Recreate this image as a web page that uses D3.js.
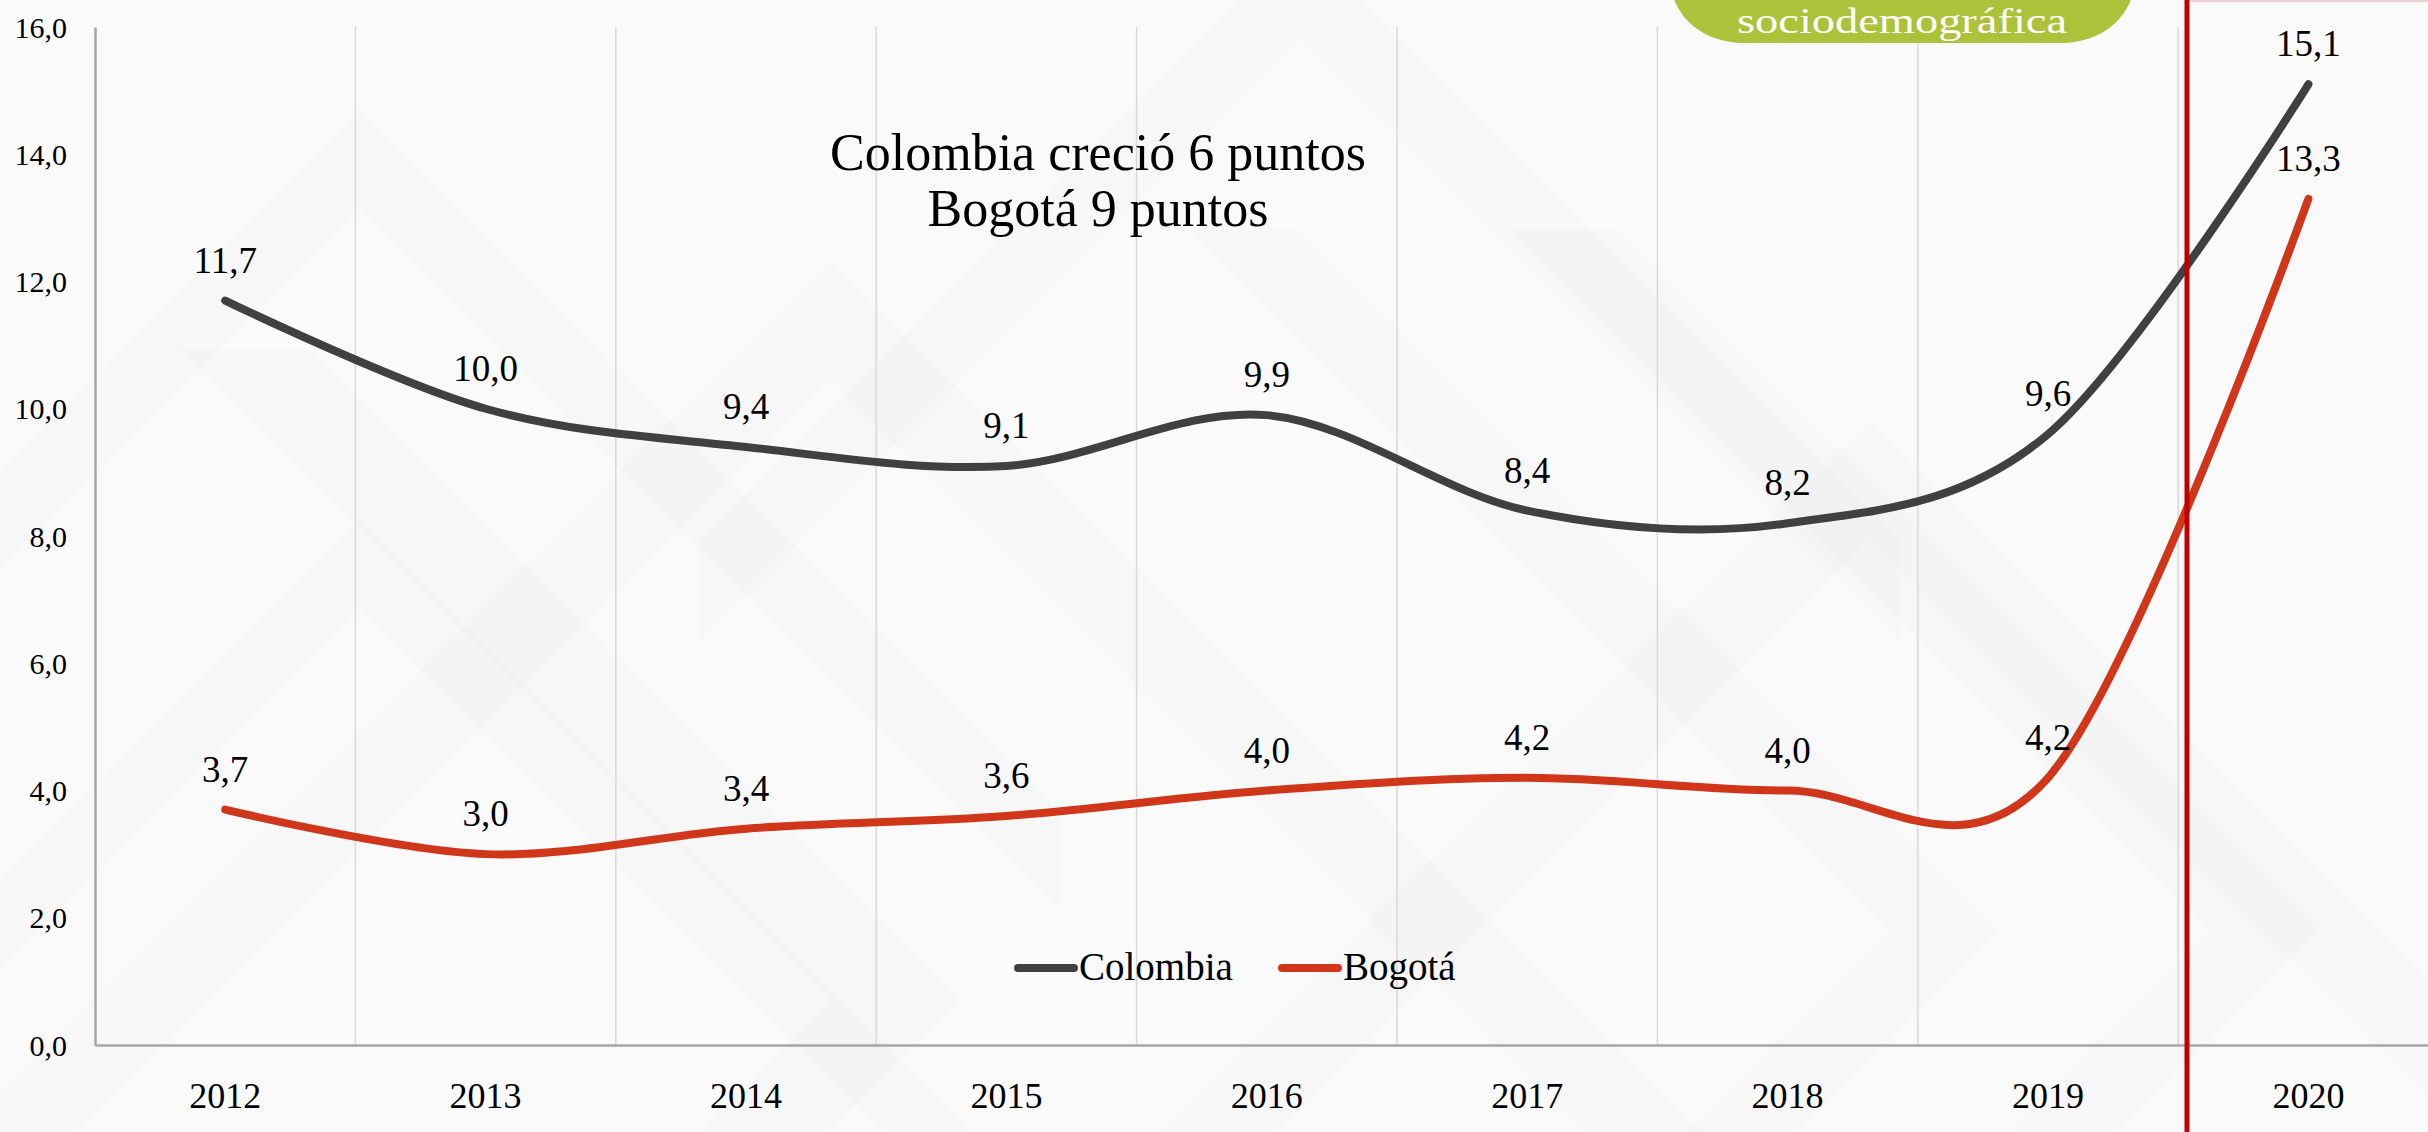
<!DOCTYPE html>
<html>
<head>
<meta charset="utf-8">
<script src="https://cdn.jsdelivr.net/npm/d3@7"></script>
<style>
  html, body { margin: 0; padding: 0; background: #fafafb; }
  svg { display: block; }
  text { font-family: "Liberation Serif", "DejaVu Serif", serif; fill: #000; }
</style>
</head>
<body>
<svg id="chart" width="2428" height="1132"></svg>
<script>
// Series: unemployment rate (%) by year
const years = ["2012", "2013", "2014", "2015", "2016", "2017", "2018", "2019", "2020"];
const colombia = [11.7, 10.0, 9.4, 9.1, 9.9, 8.4, 8.2, 9.6, 15.1];
const bogota = [3.7, 3.0, 3.4, 3.6, 4.0, 4.2, 4.0, 4.2, 13.3];
const seriesNames = ["Colombia", "Bogotá"];
const yTicks = [0, 2, 4, 6, 8, 10, 12, 14, 16];
const titleLines = ["Colombia creció 6 puntos", "Bogotá 9 puntos"];
const badgeText = "sociodemográfica";

const W = 2428, H = 1132;
const svg = d3.select("#chart");

const es = d3.formatLocale({ decimal: ",", thousands: ".", grouping: [3], currency: ["$", ""] });
const fmt = es.format(".1f");

// ---- soft chevron backdrop ----
const bg = svg.append("g");
bg.append("rect").attr("width", W).attr("height", H).attr("fill", "#fafafb");
function chevron(cx, cy, arm, thick, dir) {
  // dir: "up" (^) or "right" (>)
  let pts;
  if (dir === "up") {
    pts = [[cx - arm, cy + arm], [cx, cy], [cx + arm, cy + arm],
           [cx + arm, cy + arm + thick], [cx, cy + thick], [cx - arm, cy + arm + thick]];
  } else {
    pts = [[cx - arm, cy - arm], [cx, cy], [cx - arm, cy + arm],
           [cx - arm - thick, cy + arm], [cx - thick, cy], [cx - arm - thick, cy - arm]];
  }
  return "M" + pts.map(p => p.join(",")).join("L") + "Z";
}
const chevrons = [
  { cx: 830, cy: 260, arm: 900, t: 120, d: "up", o: 0.012 },
  { cx: 360, cy: 110, arm: 700, t: 100, d: "up", o: 0.012 },
  { cx: 360, cy: 520, arm: 700, t: 90, d: "up", o: 0.01 },
  { cx: 1870, cy: 420, arm: 800, t: 120, d: "up", o: 0.012 },
  { cx: 960, cy: 1000, arm: 650, t: 130, d: "right", o: 0.012 },
  { cx: 2000, cy: 930, arm: 700, t: 110, d: "right", o: 0.012 },
  { cx: 2320, cy: 930, arm: 700, t: 110, d: "right", o: 0.01 },
  { cx: 1300, cy: -60, arm: 600, t: 100, d: "up", o: 0.01 }
];
bg.selectAll("path.chev").data(chevrons).join("path")
  .attr("class", "chev")
  .attr("d", d => chevron(d.cx, d.cy, d.arm, d.t, d.d))
  .attr("fill", "#000").attr("fill-opacity", d => d.o);

// ---- scales ----
const plot = { left: 95, top: 27, bottom: 1045, band: 260.4 };
const x = d3.scaleBand().domain(years)
  .range([plot.left, plot.left + plot.band * years.length]).padding(0);
const y = d3.scaleLinear().domain([0, 16]).range([plot.bottom, plot.top]);
const cx = d => x(d) + x.bandwidth() / 2;

// ---- vertical gridlines between categories ----
svg.append("g").selectAll("line").data(years.slice(1)).join("line")
  .attr("x1", d => x(d)).attr("x2", d => x(d))
  .attr("y1", y(16)).attr("y2", y(0))
  .attr("stroke", "#d9d9d9").attr("stroke-width", 1.5);

// ---- axes ----
const yAxis = svg.append("g").attr("transform", `translate(${plot.left},0)`)
  .call(d3.axisLeft(y).tickValues(yTicks).tickFormat(fmt).tickSize(0).tickSizeOuter(0).tickPadding(28));
yAxis.attr("font-family", null);
yAxis.select(".domain").attr("stroke", "#a6a6a6").attr("stroke-width", 2.5);
yAxis.selectAll("text").attr("font-size", 30).attr("dy", "0.34em");

const xAxis = svg.append("g").attr("transform", `translate(0,${plot.bottom})`)
  .call(d3.axisBottom(x).tickSize(0).tickSizeOuter(0).tickPadding(37));
xAxis.attr("font-family", null);
xAxis.select(".domain").attr("stroke", "#a6a6a6").attr("stroke-width", 2.5);
xAxis.selectAll("text").attr("font-size", 36);

// ---- series lines ----
const series = [
  { name: seriesNames[0], values: colombia, color: "#404040" },
  { name: seriesNames[1], values: bogota, color: "#d0361a" }
];
const line = d3.line()
  .x((d, i) => cx(years[i]))
  .y(d => y(d))
  .curve(d3.curveCardinal.tension(0));

svg.append("g").selectAll("path").data(series).join("path")
  .attr("d", s => line(s.values))
  .attr("fill", "none")
  .attr("stroke", s => s.color)
  .attr("stroke-width", 8)
  .attr("stroke-linecap", "round")
  .attr("stroke-linejoin", "round");

// ---- data labels ----
series.forEach(s => {
  svg.append("g").selectAll("text").data(s.values).join("text")
    .attr("x", (d, i) => cx(years[i]))
    .attr("y", d => y(d) - 28)
    .attr("text-anchor", "middle")
    .attr("font-size", 37)
    .text(d => fmt(d));
});

// ---- title ----
svg.append("g").selectAll("text").data(titleLines).join("text")
  .attr("x", 1098)
  .attr("y", (d, i) => 170 + i * 56)
  .attr("text-anchor", "middle")
  .attr("font-size", 52)
  .text(d => d);

// ---- legend ----
const legend = svg.append("g").attr("transform", "translate(1018,968)");
const legendX = [0, 264];
series.forEach((s, i) => {
  const g = legend.append("g").attr("transform", `translate(${legendX[i]},0)`);
  g.append("line").attr("x1", 0).attr("x2", 56).attr("y1", 0).attr("y2", 0)
    .attr("stroke", s.color).attr("stroke-width", 8).attr("stroke-linecap", "round");
  g.append("text").attr("x", 61).attr("y", 12).attr("font-size", 39).text(s.name);
});

// ---- marker line and header badge ----
svg.append("line").attr("x1", 2190).attr("x2", W).attr("y1", 1).attr("y2", 1)
  .attr("stroke", "#f3cfcf").attr("stroke-width", 2);
svg.append("line").attr("x1", 2187).attr("x2", 2187).attr("y1", 0).attr("y2", H)
  .attr("stroke", "#c00000").attr("stroke-width", 5);

const badge = svg.append("g");
badge.append("rect").attr("x", 1671).attr("y", -80).attr("width", 463).attr("height", 123)
  .attr("rx", 72).attr("ry", 62).attr("fill", "#abc23a");
badge.append("text").attr("x", 1902).attr("y", 33).attr("text-anchor", "middle")
  .attr("font-size", 35).attr("textLength", 330).attr("lengthAdjust", "spacingAndGlyphs")
  .style("fill", "#ffffff").text(badgeText);
</script>
</body>
</html>
